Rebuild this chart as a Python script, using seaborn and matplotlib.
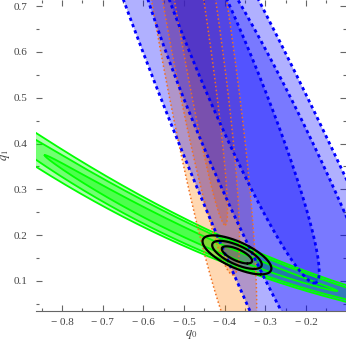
import numpy as np
import matplotlib
matplotlib.use("Agg")
import matplotlib.pyplot as plt
import seaborn as sns

# blue dashed regions (outer level first): centre, vector centre->lowest point, horizontal half width
blue_cx = [-0.1582, -0.2677, -0.4046]
blue_cy = [0.0585, 0.2987, 0.5825]
blue_ux = [0.6491, 0.3531, 0.2250]
blue_uy = [-1.310, -0.6965, -0.4869]
blue_w = [0.1918, 0.1377, 0.0738]

# orange dotted regions
orange_cx = [-0.5113, -0.5113, -0.5113]
orange_cy = [0.8445, 0.8445, 0.8445]
orange_ux = [0.1652, 0.1318, 0.1121]
orange_uy = [-0.9170, -0.7314, -0.6223]
orange_w = [0.0934, 0.0664, 0.0370]

# black solid ellipses
black_cx = -0.370
black_cy = 0.157
black_ux = 0.0585
black_uy = -0.0426
black_w = 0.0612
black_scale = [1.0, 0.72, 0.44]

# green band: ridge points, half widths at left / right edge
green_ridge_x = [-0.864, -0.559, -0.478, -0.232, -0.116]
green_ridge_y = [0.386, 0.233, 0.198, 0.107, 0.078]
green_xc = -0.483
green_half_len = [1.0, 0.55, 0.36]
green_hw_left = [0.040, 0.030, 0.014]
green_hw_right = [0.020, 0.018, 0.008]
green_edge_x = [-0.864, -0.11]

x_ticks = [-0.8, -0.7, -0.6, -0.5, -0.4, -0.3, -0.2]
y_ticks = [0.1, 0.2, 0.3, 0.4, 0.5, 0.6, 0.7]
xlim = (-0.864, -0.102)
ylim = (0.0345, 0.7135)

sns.set_theme(style="ticks")
plt.rcParams['font.family'] = ['Liberation Serif', 'DejaVu Serif']
plt.rcParams['mathtext.fontset'] = 'stix'

fig = plt.figure(figsize=(3.46, 3.43), dpi=100)
ax = fig.add_axes([36 / 346, 32 / 343, 310 / 346, 311 / 343])

t = np.linspace(0, 2 * np.pi, 300)


def ellipse(cx, cy, ux, uy, w, s=1.0):
    x = cx + s * (ux * np.cos(t) + w * np.sin(t))
    y = cy + s * (uy * np.cos(t))
    return x, y


def outline(x, y, **kw):
    sns.lineplot(x=np.append(x, x[0]), y=np.append(y, y[0]), sort=False,
                 estimator=None, ax=ax, legend=False, **kw)


# green band
coef = np.polyfit(green_ridge_x, green_ridge_y, 2)
for L, hl, hr in zip(green_half_len, green_hw_left, green_hw_right):
    xs = np.linspace(green_xc - L, green_xc + L, 400)
    env = np.interp(xs, green_edge_x, [hl, hr], left=hl, right=hr)
    hw = env * np.sqrt(np.clip(1 - ((xs - green_xc) / L) ** 2, 0, None))
    ridge = np.polyval(coef, xs)
    px = np.concatenate([xs, xs[::-1]])
    py = np.concatenate([ridge + hw, (ridge - hw)[::-1]])
    ax.fill(px, py, color='#00ff00', alpha=0.33, lw=0)
    outline(px, py, color='#00ff00', lw=1.3)

# orange
for i in range(3):
    x, y = ellipse(orange_cx[i], orange_cy[i], orange_ux[i], orange_uy[i], orange_w[i])
    ax.fill(x, y, color='#ff8000', alpha=0.3, lw=0)
for i in range(3):
    x, y = ellipse(orange_cx[i], orange_cy[i], orange_ux[i], orange_uy[i], orange_w[i])
    outline(x, y, color='#f07020', lw=1.1, linestyle=(0, (1, 1.6)))

# blue
for i in range(3):
    x, y = ellipse(blue_cx[i], blue_cy[i], blue_ux[i], blue_uy[i], blue_w[i])
    ax.fill(x, y, color='#0000ff', alpha=0.31, lw=0)
for i in range(3):
    x, y = ellipse(blue_cx[i], blue_cy[i], blue_ux[i], blue_uy[i], blue_w[i])
    outline(x, y, color='#0000ff', lw=2.0, linestyle=(0, (1.2, 1.2)))

# black
for s in black_scale:
    x, y = ellipse(black_cx, black_cy, black_ux, black_uy, black_w, s)
    outline(x, y, color='black', lw=1.6)

ax.set_xlim(*xlim)
ax.set_ylim(*ylim)
ax.set_xticks(x_ticks)
ax.set_xticklabels(['\u2212 ' + f'{abs(v):.1f}' for v in x_ticks])
ax.set_yticks(y_ticks)
ax.set_yticklabels([f'{v:.1f}' for v in y_ticks])
ax.set_xticks(np.arange(-0.85, -0.1, 0.1), minor=True)
ax.set_yticks(np.arange(0.05, 0.71, 0.1), minor=True)
ax.tick_params(which='both', direction='in', color='#666666', labelcolor='#444444',
               labelsize=8, top=True, right=True, width=0.8)
ax.tick_params(which='major', length=4)
ax.tick_params(which='minor', length=2)
ax.tick_params(axis='x', pad=5)
ax.tick_params(axis='y', pad=6)
for side in ['left', 'top', 'right']:
    ax.spines[side].set_visible(False)
ax.spines['bottom'].set_color('#666666')
ax.spines['bottom'].set_linewidth(0.8)
ax.set_xlabel('$q_0$', fontsize=9, color='#444444', labelpad=1)
ax.set_ylabel('$q_1$', fontsize=9, color='#444444', labelpad=1)

fig.savefig('out.png', dpi=100)
